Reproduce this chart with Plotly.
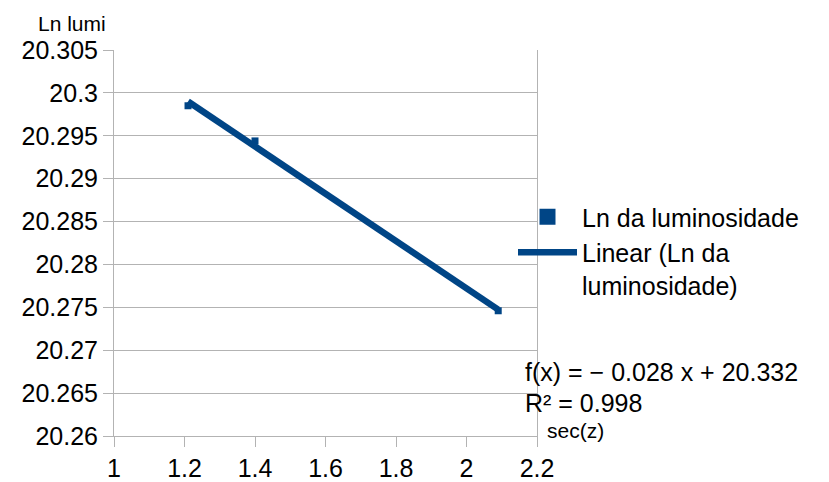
import numpy as np
import plotly.graph_objects as go

# Measurements: secant of the zenith angle vs. natural log of the luminosity
sec_z = [1.21, 1.40, 2.09]
ln_lumi = [20.2985, 20.2944, 20.2746]

x_ticks = [1, 1.2, 1.4, 1.6, 1.8, 2, 2.2]
x_tick_labels = ["1", "1.2", "1.4", "1.6", "1.8", "2", "2.2"]
y_ticks = [20.26, 20.265, 20.27, 20.275, 20.28, 20.285, 20.29, 20.295, 20.3, 20.305]
y_tick_labels = ["20.26", "20.265", "20.27", "20.275", "20.28", "20.285",
                 "20.29", "20.295", "20.3", "20.305"]

series_name = "Ln da luminosidade"
trend_name = "Linear (Ln da<br>luminosidade)"
x_title = "sec(z)"
y_title = "Ln lumi"

BLUE = "#004586"
GRID = "#b3b3b3"
FONT = "Liberation Sans, Arial, sans-serif"

# Least-squares linear trend line and its coefficient of determination
slope, intercept = np.polyfit(sec_z, ln_lumi, 1)
pred = intercept + slope * np.array(sec_z)
y_arr = np.array(ln_lumi)
r2 = 1 - np.sum((y_arr - pred) ** 2) / np.sum((y_arr - y_arr.mean()) ** 2)
x_fit = [min(sec_z), max(sec_z)]
y_fit = [intercept + slope * v for v in x_fit]

sign = "−" if slope < 0 else "+"
eq_text = f"f(x) = {sign} {abs(slope):.3f} x + {intercept:.3f}"
r2_text = f"R² = {r2:.3f}"

fig = go.Figure()
fig.add_trace(go.Scatter(
    x=sec_z, y=ln_lumi, mode="markers",
    marker=dict(symbol="square", size=7, color=BLUE),
    showlegend=False, name=series_name,
))
# legend entry for the data series (full-size swatch)
fig.add_trace(go.Scatter(
    x=[None], y=[None], mode="markers",
    marker=dict(symbol="square", size=16, color=BLUE),
    name=series_name,
))
fig.add_trace(go.Scatter(
    x=x_fit, y=y_fit, mode="lines",
    line=dict(color=BLUE, width=6.5),
    name=trend_name,
))

fig.update_layout(
    width=829, height=482,
    margin=dict(l=114, r=292, t=50, b=46, pad=0, autoexpand=False),
    paper_bgcolor="white", plot_bgcolor="white",
    font=dict(family=FONT, size=25, color="black"),
    legend=dict(
        xref="container", yref="container",
        x=513 / 829, y=1 - 194 / 482, xanchor="left", yanchor="top",
        font=dict(size=25), itemwidth=59, bgcolor="rgba(0,0,0,0)",
        tracegroupgap=0, valign="top",
    ),
    xaxis=dict(
        range=[1, 2.2], tickvals=x_ticks, ticktext=x_tick_labels,
        ticks="outside", ticklen=10, tickwidth=1, tickcolor=GRID,
        showline=True, linecolor=GRID, linewidth=1,
        showgrid=False, zeroline=False, automargin=False,
    ),
    yaxis=dict(
        range=[20.26, 20.305], tickvals=y_ticks, ticktext=y_tick_labels,
        ticks="outside", ticklen=10, tickwidth=1, tickcolor=GRID,
        showline=True, linecolor=GRID, linewidth=1, mirror=True,
        showgrid=True, gridcolor=GRID, gridwidth=1, zeroline=False,
        automargin=False,
    ),
    annotations=[
        dict(text=y_title, xref="paper", yref="paper", x=-0.0993, y=1.0674,
             xanchor="center", yanchor="middle", showarrow=False,
             font=dict(size=21)),
        dict(text=x_title, xref="paper", yref="paper", x=1.019, y=0.013,
             xanchor="left", yanchor="middle", showarrow=False,
             font=dict(size=21)),
        dict(text=eq_text, xref="paper", yref="paper", x=0.968, y=0.1658,
             xanchor="left", yanchor="middle", showarrow=False,
             font=dict(size=25)),
        dict(text=r2_text, xref="paper", yref="paper", x=0.968, y=0.0855,
             xanchor="left", yanchor="middle", showarrow=False,
             font=dict(size=25)),
    ],
)

fig.write_html("out.html")
